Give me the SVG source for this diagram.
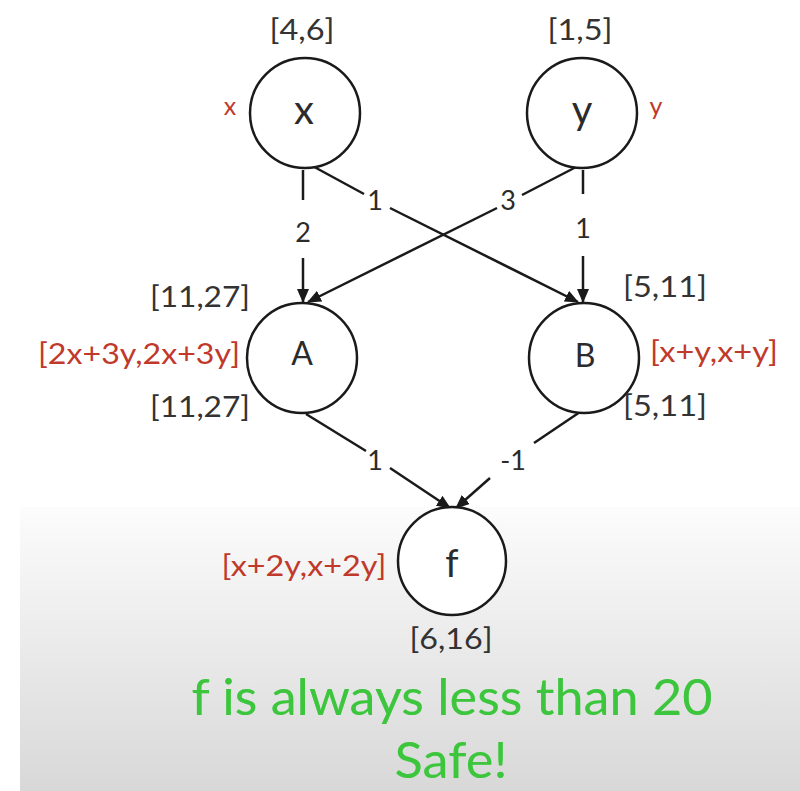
<svg xmlns="http://www.w3.org/2000/svg" width="800" height="791" viewBox="0 0 800 791">
<defs>
<linearGradient id="bg" x1="0" y1="0" x2="0" y2="1">
<stop offset="0" stop-color="#fcfcfc"/>
<stop offset="1" stop-color="#d8d8d8"/>
</linearGradient>
<marker id="arr" markerUnits="userSpaceOnUse" markerWidth="14" markerHeight="12" refX="13" refY="6" orient="auto">
<path d="M0,0 L14,6 L0,12 z" fill="#1a1a1a"/>
</marker>
<filter id="glow" x="-10%" y="-30%" width="120%" height="160%">
<feGaussianBlur in="SourceAlpha" stdDeviation="2"/>
<feFlood flood-color="#7fe07f" flood-opacity="0.8"/>
<feComposite operator="in" in2="SourceGraphic"/>
<feComposite operator="over" in="SourceGraphic"/>
</filter>
</defs>
<style>
text{font-family:Lato,"Liberation Sans",sans-serif;text-anchor:middle}
.node{fill:#fff;stroke:#1a1a1a;stroke-width:2.5}
.lbl{fill:#2b2b2b;font-size:32px}
.rng{fill:#333;font-size:28px}
.sym{fill:#c0392b;font-size:28px}
.ew{fill:#2b2b2b;font-size:27px}
.edge{stroke:#1a1a1a;stroke-width:2.5;fill:none}
.green{fill:#3cc63c;font-size:50px}
</style>
<rect x="0" y="0" width="800" height="791" fill="#fff"/>
<rect x="20" y="507" width="780" height="284" fill="url(#bg)"/>

<g id="connectors">
<line class="edge" x1="303" y1="170" x2="303" y2="200"/>
<line class="edge" x1="303" y1="258" x2="303" y2="302" marker-end="url(#arr)"/>
<line class="edge" x1="583" y1="170" x2="583" y2="194"/>
<line class="edge" x1="583" y1="256" x2="583" y2="302" marker-end="url(#arr)"/>
<line class="edge" x1="307" y1="163" x2="364" y2="194"/>
<line class="edge" x1="390" y1="208" x2="578" y2="302" marker-end="url(#arr)"/>
<line class="edge" x1="580" y1="165" x2="522" y2="195"/>
<line class="edge" x1="497" y1="208" x2="308" y2="302" marker-end="url(#arr)"/>
<line class="edge" x1="306" y1="414" x2="366" y2="451"/>
<line class="edge" x1="390" y1="468" x2="450" y2="508" marker-end="url(#arr)"/>
<line class="edge" x1="580" y1="412" x2="534" y2="443"/>
<line class="edge" x1="490" y1="478" x2="456" y2="508" marker-end="url(#arr)"/>
<text class="ew" x="303" y="242">2</text>
<text class="ew" x="583" y="238">1</text>
<text class="ew" x="375" y="210">1</text>
<text class="ew" x="508" y="210">3</text>
<text class="ew" x="375" y="470">1</text>
<text class="ew" x="513" y="470">-1</text>
</g>

<g id="node-x">
<circle class="node" cx="305" cy="113" r="55"/>
<text class="lbl" x="304" y="124" font-size="40" style="font-size:40px">x</text>
<text class="rng" x="302" y="40" textLength="65" lengthAdjust="spacingAndGlyphs">[4,6]</text>
<text class="sym" x="230" y="115" style="font-size:25px">x</text>
</g>
<g id="node-y">
<circle class="node" cx="582" cy="113" r="55"/>
<text class="lbl" x="582" y="124" style="font-size:40px">y</text>
<text class="rng" x="580" y="40" textLength="65" lengthAdjust="spacingAndGlyphs">[1,5]</text>
<text class="sym" x="656" y="115" style="font-size:25px">y</text>
</g>
<g id="node-A">
<circle class="node" cx="302" cy="358" r="55"/>
<text class="lbl" x="302" y="365">A</text>
<text class="rng" x="200" y="307" textLength="100" lengthAdjust="spacingAndGlyphs">[11,27]</text>
<text class="sym" x="139" y="364" textLength="202" lengthAdjust="spacingAndGlyphs">[2x+3y,2x+3y]</text>
<text class="rng" x="200" y="417" textLength="100" lengthAdjust="spacingAndGlyphs">[11,27]</text>
</g>
<g id="node-B">
<circle class="node" cx="584" cy="358" r="55"/>
<text class="lbl" x="585" y="367">B</text>
<text class="rng" x="665" y="297" textLength="84" lengthAdjust="spacingAndGlyphs">[5,11]</text>
<text class="sym" x="714" y="362" textLength="128" lengthAdjust="spacingAndGlyphs">[x+y,x+y]</text>
<text class="rng" x="665" y="416" textLength="84" lengthAdjust="spacingAndGlyphs">[5,11]</text>
</g>
<g id="node-f">
<circle class="node" cx="452" cy="561" r="54"/>
<text class="lbl" x="452" y="577" style="font-size:38px">f</text>
<text class="sym" x="304" y="576" textLength="165" lengthAdjust="spacingAndGlyphs">[x+2y,x+2y]</text>
<text class="rng" x="451" y="649" textLength="83" lengthAdjust="spacingAndGlyphs">[6,16]</text>
</g>

<g id="conclusion" filter="url(#glow)">
<text class="green" x="452" y="715" textLength="521" lengthAdjust="spacingAndGlyphs">f is always less than 20</text>
<text class="green" x="451" y="778" textLength="113" lengthAdjust="spacingAndGlyphs">Safe!</text>
</g>
</svg>
